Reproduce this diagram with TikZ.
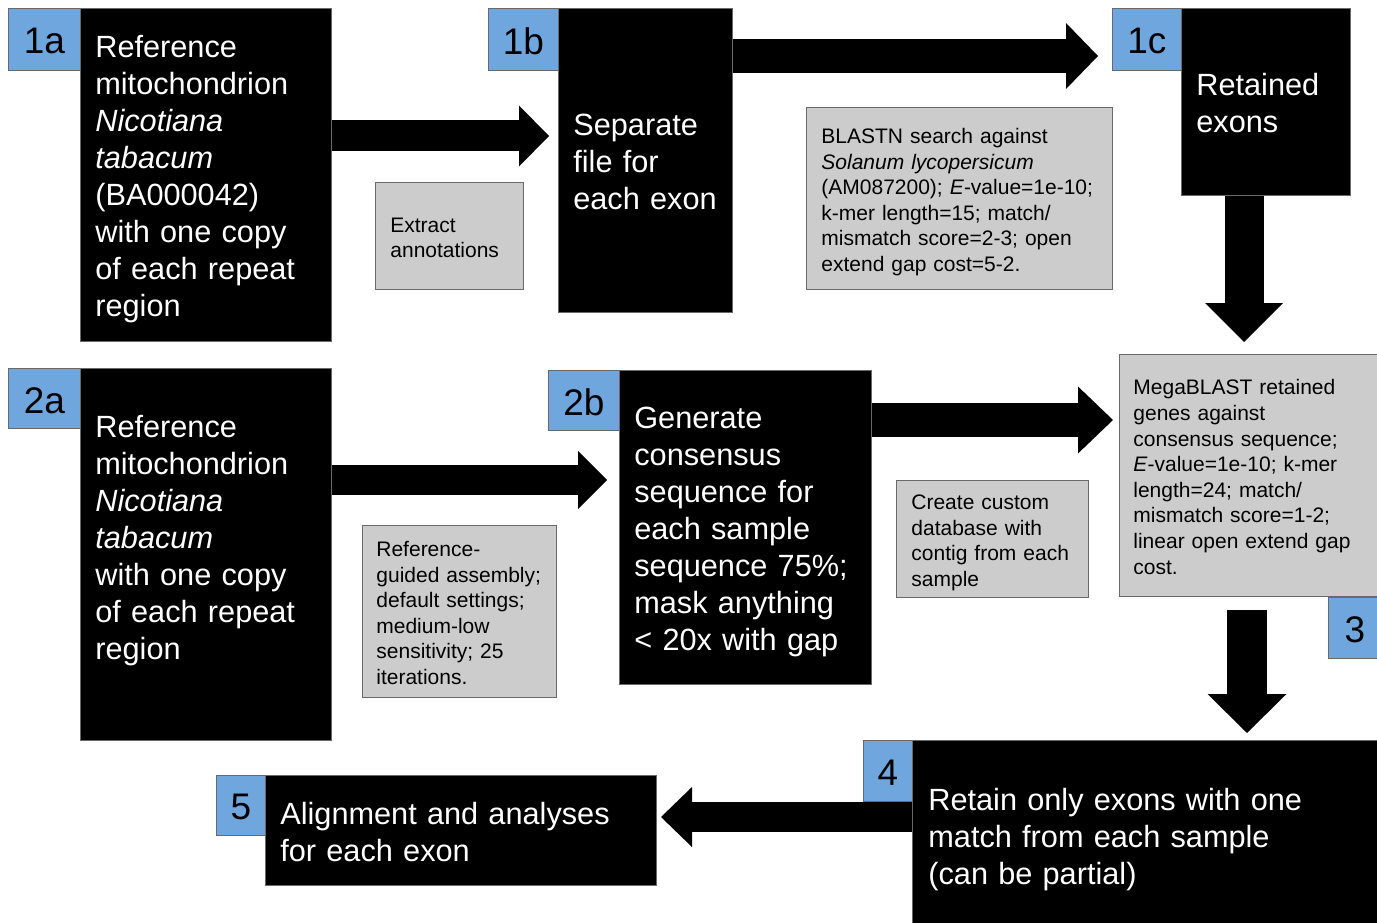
\documentclass[tikz,border=0pt]{standalone}
\usepackage{fontspec}
\setmainfont{Liberation Sans}
\usetikzlibrary{arrows.meta}
\definecolor{lblue}{RGB}{111,166,222}
\definecolor{gbox}{RGB}{204,204,204}
\definecolor{edgec}{RGB}{105,105,105}
\newcommand\tblines[2][5pt]{\raisebox{-#1}[\height][\depth]{\begin{tabular}{@{}l@{}}#2\end{tabular}}}
\newcommand\lbl[1]{\raisebox{-2pt}[\height][\depth]{#1}}
\newcommand\bigtxt{\fontsize{30.7}{37}\selectfont}
\newcommand\smalltxt{\fontsize{21}{25.6}\selectfont}
\newcommand\lbltxt{\fontsize{37}{44}\selectfont}
\begin{document}
\begin{tikzpicture}[x=1pt,y=-1pt,
  blackbox/.style={draw=edgec, line width=0.7pt, fill=black, text=white, anchor=north west, inner xsep=15pt, inner ysep=0pt, font=\bigtxt},
  graybox/.style={draw=edgec, line width=0.8pt, fill=gbox, text=black, anchor=north west, inner xsep=15pt, inner ysep=0pt, font=\smalltxt},
  lblbox/.style={draw=edgec, line width=0.8pt, fill=lblue, text=black, anchor=north west, inner sep=0pt, font=\lbltxt},
  barrow/.style n args={3}{draw=black, line width=#1, -{Triangle[length=#3, width=#2, line width=0pt]}}]
\useasboundingbox (0,0) rectangle (1377,923);
\fill[white] (0,0) rectangle (1377,923);

% row 1
\node[blackbox, minimum width=251pt, minimum height=333pt, text width=221pt] (n1a) at (80,8)
  {\tblines{Reference\\mitochondrion\\\textit{Nicotiana}\\\textit{tabacum}\\(BA000042)\\with one copy\\of each repeat\\region}};
\node[lblbox, minimum width=72pt, minimum height=62pt] (l1a) at (8,8) {\lbl{1a}};
\node[graybox, minimum width=148pt, minimum height=107pt, text width=118pt] (g1) at (375,182)
  {\tblines[4pt]{Extract\\annotations}};
\node[blackbox, minimum width=174pt, minimum height=304pt, text width=144pt] (n1b) at (558,8)
  {\tblines{Separate\\file for\\each exon}};
\node[lblbox, minimum width=70pt, minimum height=62pt] (l1b) at (488,8) {\lbl{1b}};
\node[graybox, minimum width=306pt, minimum height=182pt, text width=276pt] (g2) at (806,107)
  {\tblines[4pt]{BLASTN search against\\\textit{Solanum lycopersicum}\\(AM087200); \textit{E}-value=1e-10;\\k-mer length=15; match/\\mismatch score=2-3; open\\extend gap cost=5-2.}};
\node[blackbox, minimum width=169pt, minimum height=187pt, text width=139pt] (n1c) at (1181,8)
  {\tblines{Retained\\exons}};
\node[lblbox, minimum width=69pt, minimum height=62pt] (l1c) at (1112,8) {\lbl{1c}};

% row 2
\node[blackbox, minimum width=251pt, minimum height=372pt, text width=221pt] (n2a) at (80,368)
  {\tblines{Reference\\mitochondrion\\\textit{Nicotiana}\\\textit{tabacum}\\with one copy\\of each repeat\\region\\\mbox{}}};
\node[lblbox, minimum width=72pt, minimum height=60pt] (l2a) at (8,368) {\lbl{2a}};
\node[graybox, minimum width=194pt, minimum height=172pt, text width=166pt, inner xsep=14pt] (g3) at (362,525)
  {\tblines[4pt]{Reference-\\guided assembly;\\default settings;\\medium-low\\sensitivity; 25\\iterations.}};
\node[blackbox, minimum width=252pt, minimum height=314pt, text width=222pt] (n2b) at (619,370)
  {\tblines{Generate\\consensus\\sequence for\\each sample\\sequence 75\%;\\mask anything\\< 20x with gap}};
\node[lblbox, minimum width=71pt, minimum height=60pt] (l2b) at (548,370) {\lbl{2b}};
\node[graybox, minimum width=192pt, minimum height=117pt, text width=162pt] (g4) at (896,480)
  {\tblines[4pt]{Create custom\\database with\\contig from each\\sample}};
\node[graybox, minimum width=262pt, minimum height=242pt, text width=234pt, inner xsep=14pt] (n3) at (1119,354)
  {\tblines[4pt]{MegaBLAST retained\\genes against\\consensus sequence;\\\textit{E}-value=1e-10; k-mer\\length=24; match/\\mismatch score=1-2;\\linear open extend gap\\cost.}};
\node[lblbox, minimum width=53pt, minimum height=61pt] (l3) at (1328,597) {\lbl{3}};

% row 3
\node[blackbox, minimum width=470pt, minimum height=190pt, text width=438pt, inner xsep=16pt] (n4) at (912,740)
  {\tblines{Retain only exons with one\\match from each sample\\(can be partial)}};
\node[lblbox, minimum width=49pt, minimum height=61pt] (l4) at (863,740) {\lbl{4}};
\node[blackbox, minimum width=391pt, minimum height=110pt, text width=361pt] (n5) at (265,775)
  {\tblines{Alignment and analyses\\for each exon}};
\node[lblbox, minimum width=49pt, minimum height=60pt] (l5) at (216,775) {\lbl{5}};

% arrow end points
\coordinate (t1) at (549,136);
\coordinate (t2) at (1098,56);
\coordinate (t3) at (1244,342);
\coordinate (t4) at (607,480);
\coordinate (t5) at (1113,420);
\coordinate (s6) at (1247,610);
\coordinate (t6) at (1247,733);
\coordinate (t7) at (661,817);

% connectors
\draw[barrow={31pt}{61pt}{30pt}] (n1a.east |- t1) -- (t1);
\draw[barrow={34pt}{66pt}{32pt}] (n1b.east |- t2) -- (t2);
\draw[barrow={39pt}{78pt}{39pt}] (n1c.south -| t3) -- (t3);
\draw[barrow={30pt}{58pt}{29pt}] (n2a.east |- t4) -- (t4);
\draw[barrow={34pt}{67pt}{35pt}] (n2b.east |- t5) -- (t5);
\draw[barrow={40pt}{79pt}{39pt}] (s6) -- (t6);
\draw[barrow={30pt}{60pt}{31pt}] (n4.west |- t7) -- (t7);
\end{tikzpicture}
\end{document}
